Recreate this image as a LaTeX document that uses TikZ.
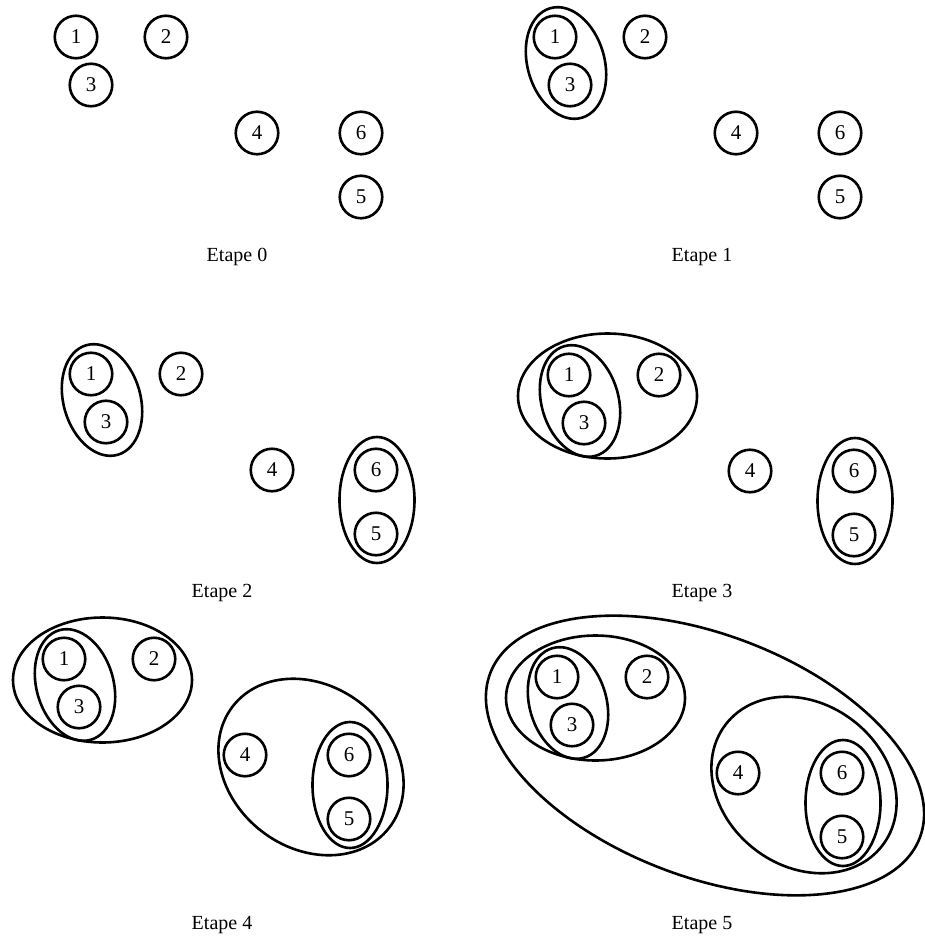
\documentclass[tikz,border=0pt]{standalone}
\usepackage{fontspec}
\setmainfont{Liberation Serif}
\usetikzlibrary{shapes.geometric}
\tikzset{
	pt/.style = {draw, circle, line width=2.6pt, minimum size=42.5pt, inner sep=0pt, font=\fontsize{21}{21}\selectfont},
	grp/.style = {draw, ellipse, line width=2.6pt, inner sep=0pt},
	etape/.style = {font=\fontsize{20}{20}\selectfont}
}

\begin{document}
\begin{tikzpicture}[x=1pt, y=-1pt]
	\useasboundingbox (0,0) rectangle (924,939);

	% Etape 0
	\begin{scope}[shift={(76,37)}]
		\node (a1)[pt] at (0,0) {1};
		\node (a2)[pt] at (90,0) {2};
		\node (a3)[pt] at (15,48) {3};
		\node (a4)[pt] at (181,96) {4};
		\node (a6)[pt] at (285,96) {6};
		\node (a5)[pt] at (285,160) {5};
	\end{scope}
	\node (la)[etape] at (237,257) {Etape 0};

	% Etape 1
	\begin{scope}[shift={(555,37)}]
		\node (b1)[pt] at (0,0) {1};
		\node (b2)[pt] at (90,0) {2};
		\node (b3)[pt] at (15,48) {3};
		\node (b4)[pt] at (181,96) {4};
		\node (b6)[pt] at (285,96) {6};
		\node (b5)[pt] at (285,160) {5};
		\node (b13)[grp, minimum width=77pt, minimum height=114pt, rotate=16] at (11,26) {};
	\end{scope}
	\node (lb)[etape] at (702,257) {Etape 1};

	% Etape 2
	\begin{scope}[shift={(91,374)}]
		\node (c1)[pt] at (0,0) {1};
		\node (c2)[pt] at (90,0) {2};
		\node (c3)[pt] at (15,48) {3};
		\node (c4)[pt] at (181,96) {4};
		\node (c6)[pt] at (285,96) {6};
		\node (c5)[pt] at (285,160) {5};
		\node (c13)[grp, minimum width=77pt, minimum height=114pt, rotate=16] at (11,26) {};
		\node (c56)[grp, minimum width=75pt, minimum height=126pt] at (286,126) {};
	\end{scope}
	\node (lc)[etape] at (222,593) {Etape 2};

	% Etape 3
	\begin{scope}[shift={(569,375)}]
		\node (d1)[pt] at (0,0) {1};
		\node (d2)[pt] at (90,0) {2};
		\node (d3)[pt] at (15,48) {3};
		\node (d4)[pt] at (181,96) {4};
		\node (d6)[pt] at (285,96) {6};
		\node (d5)[pt] at (285,160) {5};
		\node (d13)[grp, minimum width=77pt, minimum height=114pt, rotate=16] at (11,26) {};
		\node (d123)[grp, minimum width=179pt, minimum height=125pt] at (38.5,21) {};
		\node (d56)[grp, minimum width=75pt, minimum height=126pt] at (286,126) {};
	\end{scope}
	\node (ld)[etape] at (702,593) {Etape 3};

	% Etape 4
	\begin{scope}[shift={(64,659)}]
		\node (e1)[pt] at (0,0) {1};
		\node (e2)[pt] at (90,0) {2};
		\node (e3)[pt] at (15,48) {3};
		\node (e4)[pt] at (181,96) {4};
		\node (e6)[pt] at (285,96) {6};
		\node (e5)[pt] at (285,160) {5};
		\node (e13)[grp, minimum width=77pt, minimum height=114pt, rotate=16] at (11,26) {};
		\node (e123)[grp, minimum width=179pt, minimum height=125pt] at (38.5,21) {};
		\node (e56)[grp, minimum width=75pt, minimum height=126pt] at (286,126) {};
		\node (e456)[grp, minimum width=198pt, minimum height=162pt, rotate=-38] at (247,108) {};
	\end{scope}
	\node (le)[etape] at (222,925) {Etape 4};

	% Etape 5
	\begin{scope}[shift={(557,677)}]
		\node (f1)[pt] at (0,0) {1};
		\node (f2)[pt] at (90,0) {2};
		\node (f3)[pt] at (15,48) {3};
		\node (f4)[pt] at (181,96) {4};
		\node (f6)[pt] at (285,96) {6};
		\node (f5)[pt] at (285,160) {5};
		\node (f13)[grp, minimum width=77pt, minimum height=114pt, rotate=16] at (11,26) {};
		\node (f123)[grp, minimum width=179pt, minimum height=125pt] at (38.5,21) {};
		\node (f56)[grp, minimum width=75pt, minimum height=126pt] at (286,126) {};
		\node (f456)[grp, minimum width=198pt, minimum height=162pt, rotate=-38] at (247,108) {};
		\node (f123456)[grp, minimum width=460pt, minimum height=242pt, rotate=-21] at (148,78.5) {};
	\end{scope}
	\node (lf)[etape] at (702,925) {Etape 5};
\end{tikzpicture}
\end{document}
